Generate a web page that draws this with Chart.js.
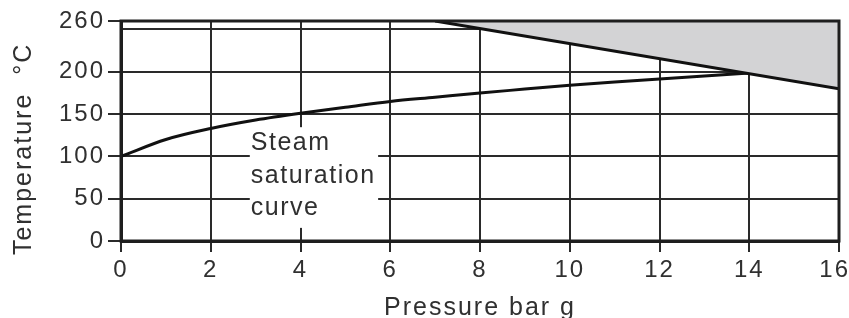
<!DOCTYPE html>
<html>
<head>
<meta charset="utf-8">
<title>Steam saturation curve</title>
<script src="https://cdn.jsdelivr.net/npm/chart.js@4/dist/chart.umd.min.js"></script>
<style>
  body { margin: 0; background: #fff; }
  canvas { display: block; }
</style>
</head>
<body>
<canvas id="steamChart" width="849" height="318"></canvas>
<script>
// ----------------data-------------------------
const pressureTicks = [0, 2, 4, 6, 8, 10, 12, 14, 16];
const tempTicks = [0, 50, 100, 150, 200, 250, 260];

// saturation curve
const satPressure = [0, 1, 2, 3, 4, 5, 6, 7, 8, 9, 10, 11, 12, 13, 14];
const satTemp = [100, 120, 133, 143, 151, 158, 165, 170, 175, 179.5, 184, 188, 191.5, 195, 198.5];

// upper limit line (shaded area above it)
const limitPressure = [7, 16];
const limitTemp = [260, 180];

const noteLines = ['Steam', 'saturation', 'curve'];

// ----------------variables-------------------------
const ink = '#303030';
const gridInk = '#2a2a2a';
const fontFamily = '"Liberation Sans", Arial, Helvetica, sans-serif';

let steamChart;
const steamCtx = document.getElementById('steamChart').getContext('2d');

// ------------------functions-----------------------------------
function toPoints(xs, ys) {
	return xs.map((x, i) => ({ x: x, y: ys[i] }));
}

// chrome canvas letter spacing, the source text is tracked out a bit
const spacingPlugin = {
	id: 'spacing',
	beforeUpdate(chart) { chart.ctx.letterSpacing = '2px'; },
	beforeDraw(chart) { chart.ctx.letterSpacing = '2px'; }
};

// white box with the "Steam saturation curve" note, then the frame on top
const notePlugin = {
	id: 'note',
	afterDatasetsDraw(chart) {
		const ctx = chart.ctx;
		const x = chart.scales.x;
		const y = chart.scales.y;
		const left = x.getPixelForValue(2.87);
		const right = x.getPixelForValue(5.73);
		const top = y.getPixelForValue(134.5);
		const bottom = y.getPixelForValue(15.5);
		ctx.save();
		ctx.fillStyle = '#fff';
		ctx.fillRect(left, top, right - left, bottom - top);
		ctx.fillStyle = ink;
		ctx.font = '25px ' + fontFamily;
		ctx.letterSpacing = '1.5px';
		ctx.textAlign = 'left';
		ctx.textBaseline = 'alphabetic';
		noteLines.forEach((txt, i) => {
			ctx.fillText(txt, left + 1, top + 23 + i * 32.5);
		});
		// frame round the plot
		const a = chart.chartArea;
		ctx.strokeStyle = '#1e1e1e';
		ctx.lineWidth = 3;
		ctx.strokeRect(a.left, a.top, a.right - a.left, a.bottom - a.top);
		ctx.restore();
	}
};

function createSteamChart() {
	const data = {
		datasets: [{
			data: toPoints(limitPressure, limitTemp),
			borderColor: '#111',
			borderWidth: 3,
			backgroundColor: '#d3d3d5',
			fill: 'end',
			pointRadius: 0
		}, {
			data: toPoints(satPressure, satTemp),
			borderColor: '#111',
			borderWidth: 3,
			fill: false,
			cubicInterpolationMode: 'monotone',
			pointRadius: 0
		}]
	};
	const config = {
		type: 'line',
		data: data,
		options: {
			responsive: false,
			animation: false,
			layout: {
				padding: { left: 0, right: 10, top: 21, bottom: 0 }
			},
			scales: {
				x: {
					type: 'linear',
					min: 0,
					max: 16,
					afterBuildTicks(scale) {
						scale.ticks = pressureTicks.map(v => ({ value: v }));
					},
					afterFit(scale) {
						scale.height = 77;
						scale.paddingLeft = 0;
						scale.paddingRight = 0;
					},
					grid: {
						color: gridInk,
						lineWidth: 2,
						tickLength: 11,
						tickColor: gridInk,
						tickWidth: 2
					},
					border: { color: '#1e1e1e', width: 3 },
					ticks: {
						color: ink,
						padding: 4,
						maxRotation: 0,
						font: { family: fontFamily, size: 24 },
						// last label sits a little inside the edge in the source
						callback: (v) => v === 16 ? '16 ' : v
					},
					title: {
						display: true,
						text: 'Pressure bar g',
						color: ink,
						padding: { top: 0, bottom: -5 },
						font: { family: fontFamily, size: 25 }
					}
				},
				y: {
					min: 0,
					max: 260,
					afterBuildTicks(scale) {
						scale.ticks = tempTicks.map(v => ({ value: v }));
					},
					afterFit(scale) {
						scale.width = 121;
						scale.paddingTop = 0;
						scale.paddingBottom = 0;
					},
					grid: {
						color: gridInk,
						lineWidth: 2,
						tickLength: 13,
						tickWidth: 2,
						tickColor: (ctx) => ctx.tick && ctx.tick.value === 250 ? 'rgba(0,0,0,0)' : gridInk
					},
					border: { color: '#1e1e1e', width: 3 },
					ticks: {
						color: ink,
						padding: 3,
						font: { family: fontFamily, size: 24 },
						callback: (v) => v === 250 ? '' : v
					},
					title: {
						display: true,
						text: 'Temperature  °C    ',
						color: ink,
						padding: { top: 9, bottom: 0 },
						font: { family: fontFamily, size: 25 }
					}
				}
			},
			plugins: {
				legend: { display: false },
				tooltip: { enabled: false }
			}
		},
		plugins: [spacingPlugin, notePlugin]
	};
	steamChart = new Chart(steamCtx, config);
}

// -------------------eventListeners----------------
createSteamChart();
</script>
</body>
</html>
